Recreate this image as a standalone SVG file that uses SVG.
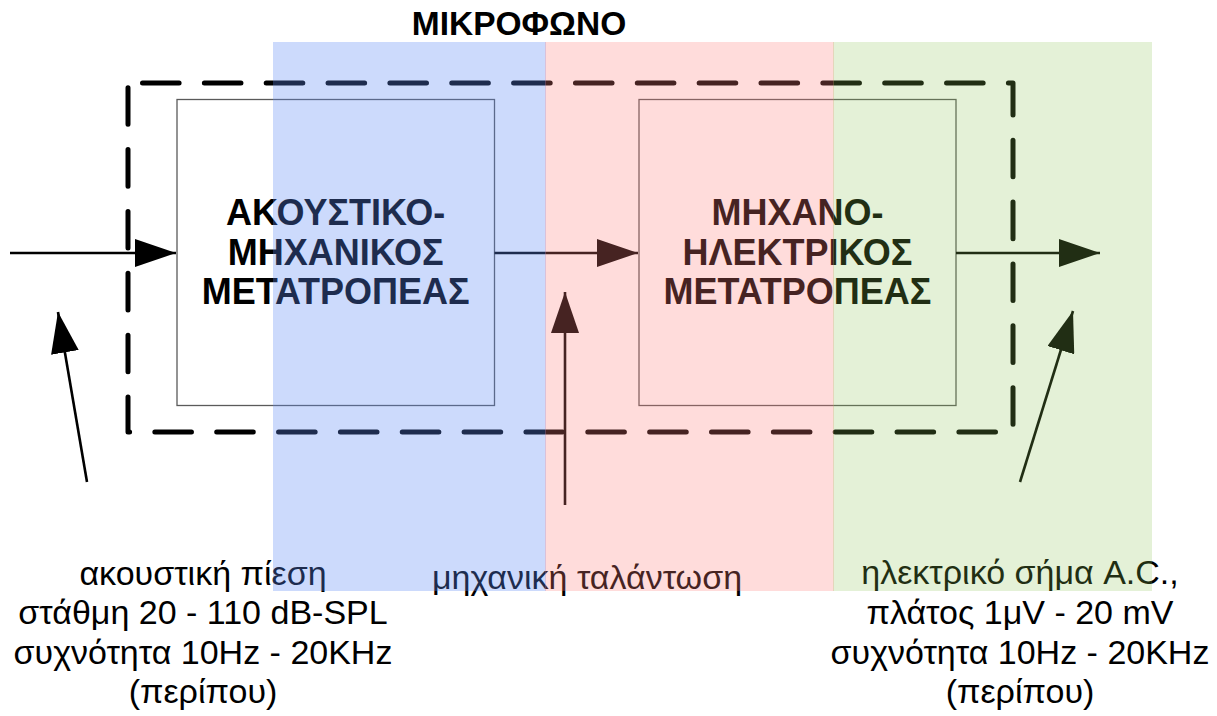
<svg xmlns="http://www.w3.org/2000/svg" width="1217" height="716" viewBox="0 0 1217 716">
<defs>
<style>
.box{fill:#ffffff;stroke:#5a5a5a;stroke-width:1.3}
.tt{font-family:"Liberation Sans",Arial,sans-serif;font-weight:bold;font-size:33.5px;fill:#000;text-anchor:middle}
.bt{font-family:"Liberation Sans",Arial,sans-serif;font-weight:bold;font-size:36px;fill:#000;text-anchor:middle}
.lt{font-family:"Liberation Sans",Arial,sans-serif;font-size:34px;fill:#000;text-anchor:middle}
.arr{stroke:#000;stroke-width:2.6;fill:none;marker-end:url(#ah)}
.dash{fill:none;stroke:#000;stroke-width:5;stroke-linecap:round;stroke-linejoin:round;stroke-dasharray:36.6 25.25;stroke-dashoffset:47.35}
</style>
<marker id="ah" markerUnits="userSpaceOnUse" markerWidth="41" markerHeight="28" refX="41" refY="14" orient="auto" viewBox="0 0 41 28">
<path d="M0,0 L41,14 L0,28 Z" fill="#000"/>
</marker>
</defs>
<rect width="1217" height="716" fill="#ffffff"/>
<g id="title"><text class="tt" x="519" y="35">ΜΙΚΡΟΦΩΝΟ</text></g>
<g id="box1">
<rect class="box" x="177" y="99.5" width="317.5" height="306"/>
<text class="bt" x="335.7" y="225">ΑΚΟΥΣΤΙΚΟ-</text>
<text class="bt" x="335.7" y="265">ΜΗΧΑΝΙΚΟΣ</text>
<text class="bt" x="335.7" y="304">ΜΕΤΑΤΡΟΠΕΑΣ</text>
</g>
<g id="box2">
<rect class="box" x="639" y="99.5" width="317" height="306"/>
<text class="bt" x="797.5" y="225">ΜΗΧΑΝΟ-</text>
<text class="bt" x="797.5" y="265">ΗΛΕΚΤΡΙΚΟΣ</text>
<text class="bt" x="797.5" y="304">ΜΕΤΑΤΡΟΠΕΑΣ</text>
</g>
<g id="microphone-boundary">
<path class="dash" d="M128,83 H1013 V432 H128 Z"/>
</g>
<g id="connectors">
<line class="arr" x1="10" y1="253" x2="176" y2="253"/>
<line class="arr" x1="494.5" y1="253" x2="638" y2="253"/>
<line class="arr" x1="956" y1="253" x2="1100" y2="253"/>
<line class="arr" x1="87" y1="482" x2="58" y2="312"/>
<line class="arr" x1="565" y1="505" x2="565" y2="292"/>
<line class="arr" x1="1020" y1="482" x2="1073" y2="311"/>
</g>
<g id="label-input">
<text class="lt" x="203" y="585">ακουστική πίεση</text>
<text class="lt" x="203" y="624">στάθμη 20 - 110 dB-SPL</text>
<text class="lt" x="203" y="664">συχνότητα 10Hz - 20KHz</text>
<text class="lt" x="203" y="703">(περίπου)</text>
</g>
<g id="label-middle">
<text class="lt" x="587" y="589">μηχανική ταλάντωση</text>
</g>
<g id="label-output">
<text class="lt" x="1020" y="584">ηλεκτρικό σήμα A.C.,</text>
<text class="lt" x="1020" y="624">πλάτος 1μV - 20 mV</text>
<text class="lt" x="1020" y="664">συχνότητα 10Hz - 20KHz</text>
<text class="lt" x="1020" y="703">(περίπου)</text>
</g>
<g id="zones">
<rect id="zone-acoustic" x="273" y="42" width="273" height="549" fill="rgb(94,138,245)" fill-opacity="0.318"/>
<rect id="zone-mechanical" x="545" y="42" width="289" height="549" fill="rgb(255,127,124)" fill-opacity="0.275"/>
<rect id="zone-electrical" x="833" y="42" width="319" height="549" fill="rgb(140,196,85)" fill-opacity="0.235"/>
</g>
</svg>
